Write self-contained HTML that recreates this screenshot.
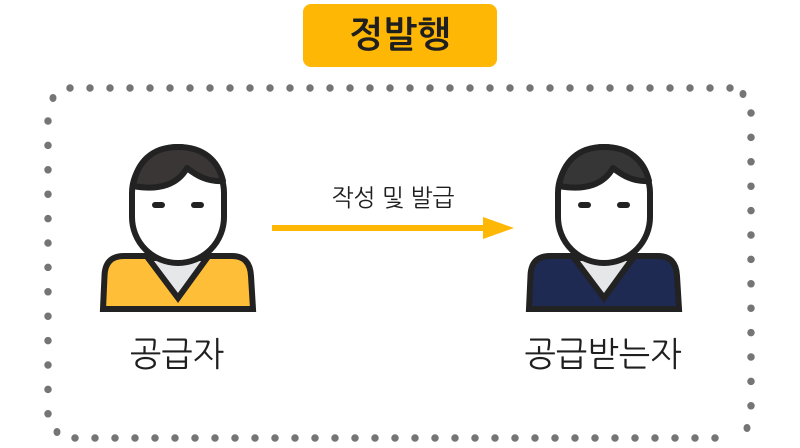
<!DOCTYPE html>
<html lang="ko"><head><meta charset="utf-8"><style>
html,body{margin:0;padding:0;background:#fff}
svg{display:block}
text{font-family:"Liberation Sans","NanumGothic","Noto Sans CJK KR",sans-serif;fill:#1f1f1f;text-anchor:middle}
</style></head><body>
<svg width="800" height="448" viewBox="0 0 800 448" xmlns="http://www.w3.org/2000/svg">
<defs>
<g id="sk">
<path d="M103 309 L104.5 276 Q105 256 124 256 L232 256 Q250 256 251 276 L253 309 Z" fill="var(--c)" stroke="#222" stroke-width="6" stroke-linejoin="miter"/>
<path d="M148 258 L178 298 L207 258 Z" fill="#e6e7e8" stroke="#222" stroke-width="6" stroke-linejoin="miter"/>
<path d="M132 193 A46 46 0 0 1 224 193 L224 217 A46 46 0 0 1 132 217 Z" fill="#fff" stroke="#222" stroke-width="6"/>
<path d="M133 186 C160 191 178 184 187 168 C197 176 208 182 223 181 C218 160 203 147 178 147 C152 147 137 162 133 186 Z" fill="var(--h)" stroke="#222" stroke-width="6" stroke-linejoin="round"/>
<rect x="152" y="202" width="13" height="6" rx="3" fill="#222"/>
<rect x="191" y="202" width="13" height="6" rx="3" fill="#222"/>
</g>
</defs>
<rect x="303" y="4" width="194" height="63" rx="8" fill="#ffb706"/>
<text x="400" y="47" font-size="36" font-weight="700">정발행</text>
<g fill="none" stroke="#757575" stroke-width="7.5" stroke-linecap="round" stroke-dasharray="0 20">
<path d="M70 88 L740 88"/>
<path d="M75 438 L735 438"/>
<path d="M48 121 L48 415" stroke-dasharray="0 24.4"/>
<path d="M751 113 L751 410" stroke-dasharray="0 24.4"/>
</g>
<g fill="#757575">
<ellipse cx="53" cy="98" rx="3.5" ry="4"/>
<ellipse cx="743" cy="94" rx="3.5" ry="4"/>
<ellipse cx="57" cy="432" rx="3.5" ry="4"/>
<ellipse cx="747" cy="428" rx="3.5" ry="4"/>
</g>
<use href="#sk" style="--c:#ffbe38;--h:#3a3635"/>
<use href="#sk" x="426" style="--c:#1e2a52;--h:#363636"/>
<rect x="272" y="225" width="212" height="6" fill="#ffb706"/>
<path d="M483 217 L514 228 L483 239 Z" fill="#ffb706"/>
<text x="393" y="206" font-size="24" textLength="123" lengthAdjust="spacingAndGlyphs">작성 및 발급</text>
<text x="177" y="366" font-size="34" textLength="94" lengthAdjust="spacingAndGlyphs">공급자</text>
<text x="603" y="366" font-size="34" textLength="157" lengthAdjust="spacingAndGlyphs">공급받는자</text>
</svg>
</body></html>
